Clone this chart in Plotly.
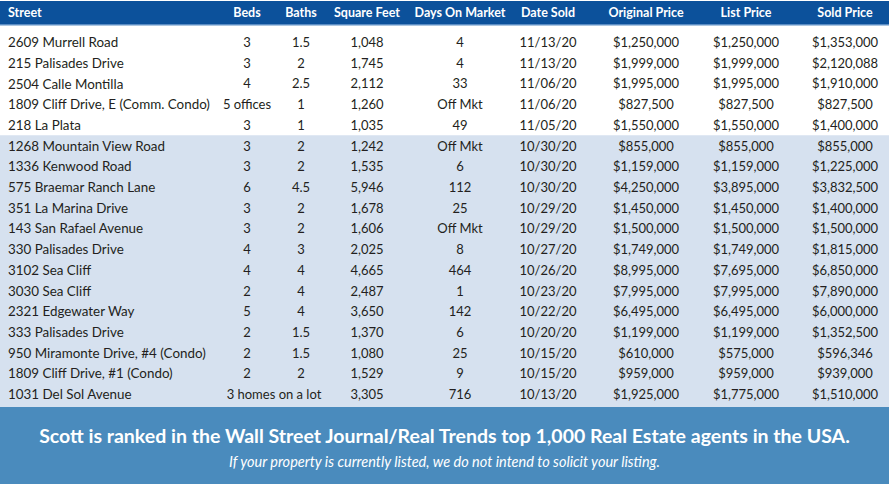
import plotly.graph_objects as go

headers = ["Street", "Beds", "Baths", "Square Feet", "Days On Market",
           "Date Sold", "Original Price", "List Price", "Sold Price"]

street = ["2609 Murrell Road", "215 Palisades Drive", "2504 Calle Montilla",
          "1809 Cliff Drive, E (Comm. Condo)", "218 La Plata",
          "1268 Mountain View Road", "1336 Kenwood Road", "575 Braemar Ranch Lane",
          "351 La Marina Drive", "143 San Rafael Avenue", "330 Palisades Drive",
          "3102 Sea Cliff", "3030 Sea Cliff", "2321 Edgewater Way",
          "333 Palisades Drive", "950 Miramonte Drive, #4 (Condo)",
          "1809 Cliff Drive, #1 (Condo)", "1031 Del Sol Avenue"]
beds = ["3", "3", "4", "5 offices", "3", "3", "3", "6", "3", "3", "4", "4",
        "2", "5", "2", "2", "2", "3 homes on a lot"]
baths = ["1.5", "2", "2.5", "1", "1", "2", "2", "4.5", "2", "2", "3", "4",
         "4", "4", "1.5", "1.5", "2", ""]
sqft = ["1,048", "1,745", "2,112", "1,260", "1,035", "1,242", "1,535", "5,946",
        "1,678", "1,606", "2,025", "4,665", "2,487", "3,650", "1,370", "1,080",
        "1,529", "3,305"]
days = ["4", "4", "33", "Off Mkt", "49", "Off Mkt", "6", "112", "25", "Off Mkt",
        "8", "464", "1", "142", "6", "25", "9", "716"]
date_sold = ["11/13/20", "11/13/20", "11/06/20", "11/06/20", "11/05/20",
             "10/30/20", "10/30/20", "10/30/20", "10/29/20", "10/29/20",
             "10/27/20", "10/26/20", "10/23/20", "10/22/20", "10/20/20",
             "10/15/20", "10/15/20", "10/13/20"]
orig_price = ["$1,250,000", "$1,999,000", "$1,995,000", "$827,500", "$1,550,000",
              "$855,000", "$1,159,000", "$4,250,000", "$1,450,000", "$1,500,000",
              "$1,749,000", "$8,995,000", "$7,995,000", "$6,495,000", "$1,199,000",
              "$610,000", "$959,000", "$1,925,000"]
list_price = ["$1,250,000", "$1,999,000", "$1,995,000", "$827,500", "$1,550,000",
              "$855,000", "$1,159,000", "$3,895,000", "$1,450,000", "$1,500,000",
              "$1,749,000", "$7,695,000", "$7,995,000", "$6,495,000", "$1,199,000",
              "$575,000", "$959,000", "$1,775,000"]
sold_price = ["$1,353,000", "$2,120,088", "$1,910,000", "$827,500", "$1,400,000",
              "$855,000", "$1,225,000", "$3,832,500", "$1,400,000", "$1,500,000",
              "$1,815,000", "$6,850,000", "$7,890,000", "$6,000,000", "$1,352,500",
              "$596,346", "$939,000", "$1,510,000"]

footer_main = "Scott is ranked in the Wall Street Journal/Real Trends top 1,000 Real Estate agents in the USA."
footer_sub = "If your property is currently listed, we do not intend to solicit your listing."

W, H = 889, 484
row0_px, row_h = 42, 20.706
text_shift = 1.8  # px, text renders slightly high
col_x = [8, 247, 301, 367, 460, 548, 646, 746, 845]
text_color = "#231f20"

columns = [street, beds, baths, sqft, days, date_sold, orig_price, list_price, sold_price]
n = len(street)
rows = [i + text_shift / row_h for i in range(n)]


def px_to_row(p):
    return (p - row0_px) / row_h


fig = go.Figure()

# header / row bands / footer backgrounds
fig.add_shape(type="rect", xref="paper", yref="y", x0=0, x1=1,
              y0=px_to_row(1), y1=px_to_row(24), fillcolor="#0c519b",
              line_width=0, layer="below")
fig.add_shape(type="rect", xref="paper", yref="y", x0=0, x1=1,
              y0=px_to_row(24), y1=px_to_row(25.5), fillcolor="#5b8dc4",
              line_width=0, layer="below")
fig.add_shape(type="rect", xref="paper", yref="y", x0=0, x1=1,
              y0=4.5, y1=px_to_row(407), fillcolor="#d6e1ef",
              line_width=0, layer="below")
fig.add_shape(type="rect", xref="paper", yref="y", x0=0, x1=1,
              y0=px_to_row(407), y1=px_to_row(H), fillcolor="#4a8bbd",
              line_width=0, layer="below")

# header labels
fig.add_trace(go.Scatter(
    x=col_x, y=[px_to_row(12 + text_shift)] * len(headers), text=headers, mode="text",
    textposition=["middle right"] + ["middle center"] * 8,
    textfont=dict(family="Lato", size=12.5, color="white", weight="bold"),
    hoverinfo="skip", showlegend=False))

# body cells
for j, col in enumerate(columns):
    xs = [col_x[j]] * n
    if j == 1:
        # "3 homes on a lot" spans Beds and Baths
        xs = [(col_x[1] + col_x[2]) / 2 if v == "3 homes on a lot" else col_x[1] for v in col]
    fig.add_trace(go.Scatter(
        x=xs, y=rows, text=col, mode="text",
        textposition="middle right" if j == 0 else "middle center",
        textfont=dict(family="Lato", size=13.4 if j == 0 else 13, color=text_color),
        hoverinfo="skip", showlegend=False))

# footer text
fig.add_trace(go.Scatter(
    x=[W / 2, W / 2], y=[px_to_row(436 + text_shift), px_to_row(462 + text_shift)],
    text=[footer_main, footer_sub], mode="text",
    textfont=dict(family="Lato", size=[19.5, 14.5], color="white",
                  weight=["bold", "normal"], style=["normal", "italic"]),
    hoverinfo="skip", showlegend=False))

fig.update_layout(
    width=W, height=H, margin=dict(l=0, r=0, t=0, b=0),
    paper_bgcolor="white", plot_bgcolor="white",
    xaxis=dict(range=[0, W], visible=False, fixedrange=True),
    yaxis=dict(range=[px_to_row(H), px_to_row(0)], visible=False, fixedrange=True),
)

fig.write_html("out.html", config={"displayModeBar": False},
               post_script="document.body.style.margin='0';document.body.style.overflow='hidden';")
